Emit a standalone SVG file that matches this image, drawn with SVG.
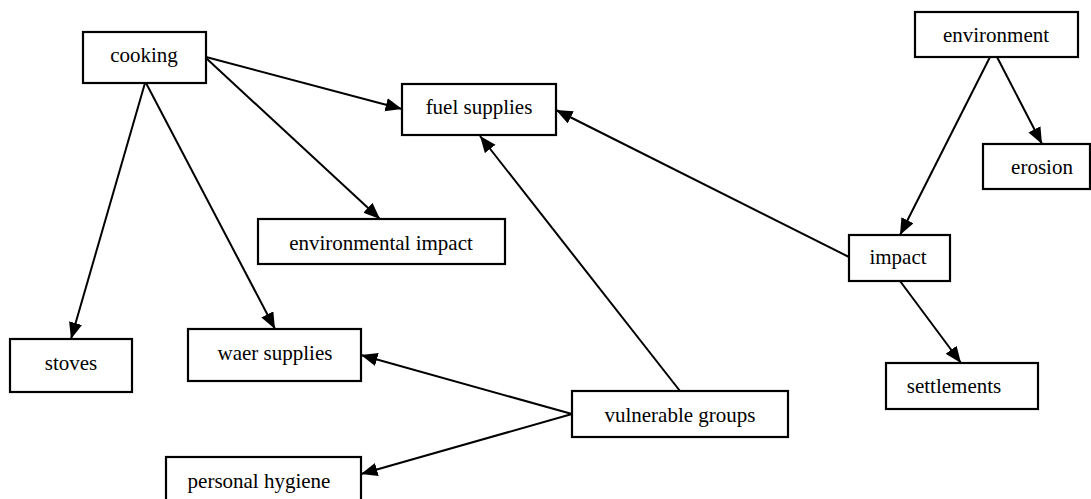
<svg xmlns="http://www.w3.org/2000/svg" width="1091" height="499" viewBox="0 0 1091 499">
<style>
.node rect{fill:#fff;stroke:#000;stroke-width:2.2}
.node text{font-family:'Liberation Serif','Times New Roman',Times,serif;font-size:21px;fill:#000;text-anchor:middle}
#edges line{stroke:#000;stroke-width:2;marker-end:url(#arr)}
</style>
<defs>
<marker id="arr" markerUnits="userSpaceOnUse" markerWidth="17" markerHeight="14" refX="16.5" refY="6.75" orient="auto">
<path d="M0,0 L16.5,6.75 L0,13.5 z" fill="#000"/>
</marker>
</defs>
<rect width="1091" height="499" fill="#fff"/>
<g id="edges">
<line x1="206" y1="57" x2="402" y2="109"/>
<line x1="206" y1="58" x2="380" y2="219"/>
<line x1="145" y1="83" x2="71" y2="339"/>
<line x1="146" y1="83" x2="275" y2="329"/>
<line x1="680" y1="391" x2="480" y2="136"/>
<line x1="849" y1="257" x2="556" y2="110"/>
<line x1="990" y1="57" x2="900" y2="235"/>
<line x1="997" y1="57" x2="1042" y2="144"/>
<line x1="900" y1="281" x2="961" y2="363"/>
<line x1="572" y1="414" x2="361" y2="355"/>
<line x1="572" y1="414" x2="361" y2="474"/>
</g>
<g id="cooking" class="node"><rect x="83" y="32" width="123" height="51"/><text x="144" y="62">cooking</text></g>
<g id="fuel-supplies" class="node"><rect x="402" y="84" width="154" height="51"/><text x="479" y="114">fuel supplies</text></g>
<g id="environmental-impact" class="node"><rect x="258" y="219" width="247" height="45"/><text x="381" y="250">environmental impact</text></g>
<g id="environment" class="node"><rect x="915" y="12" width="163" height="45"/><text x="996" y="42">environment</text></g>
<g id="erosion" class="node"><rect x="983" y="144" width="107" height="45"/><text x="1042" y="174">erosion</text></g>
<g id="impact" class="node"><rect x="849" y="235" width="101" height="46"/><text x="898" y="264">impact</text></g>
<g id="settlements" class="node"><rect x="886" y="363" width="152" height="46"/><text x="954" y="393">settlements</text></g>
<g id="vulnerable-groups" class="node"><rect x="572" y="391" width="216" height="46"/><text x="680" y="422">vulnerable groups</text></g>
<g id="stoves" class="node"><rect x="10" y="339" width="122" height="53"/><text x="71" y="370">stoves</text></g>
<g id="waer-supplies" class="node"><rect x="188" y="329" width="173" height="52"/><text x="275" y="360">waer supplies</text></g>
<g id="personal-hygiene" class="node"><rect x="166" y="457" width="195" height="52"/><text x="259" y="488">personal hygiene</text></g>
</svg>
